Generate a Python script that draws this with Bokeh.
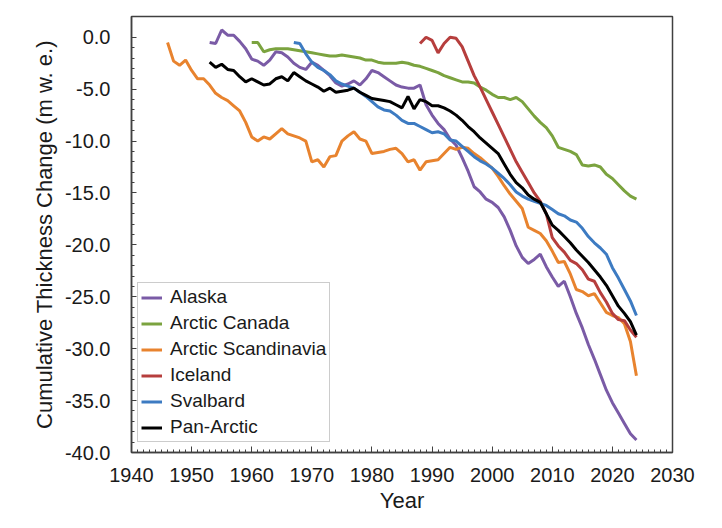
from bokeh.plotting import figure
from bokeh.models import Legend, LegendItem, PrintfTickFormatter, FixedTicker, Range1d
from bokeh.embed import file_html
from bokeh.resources import INLINE

# ---------------- data ----------------
series_names = ["Alaska", "Arctic Canada", "Arctic Scandinavia", "Iceland", "Svalbard", "Pan-Arctic"]

alaska_start = 1953
alaska = [
    -0.5, -0.6, 0.7, 0.2, 0.2, -0.4, -1.1,
    -2.1, -2.3, -2.7, -2.2, -1.4, -1.5, -1.9, -2.5, -2.9, -3.1,
    -2.4, -2.7, -3.2, -3.7, -4.4, -4.7, -4.5, -4.2, -4.6, -4.0,
    -3.2, -3.4, -3.8, -4.2, -4.6, -4.8, -4.9, -4.9, -4.6, -6.5,
    -7.5, -8.3, -8.9, -9.8, -10.4, -11.6, -12.9, -14.4, -14.9, -15.6,
    -15.9, -16.4, -17.3, -18.6, -20.1, -21.2, -21.8, -21.4, -20.9, -22.1,
    -23.1, -24.0, -23.5, -25.0, -26.6, -28.0, -29.6, -31.0, -32.5, -34.0,
    -35.2, -36.2, -37.2, -38.2, -38.8,
]

canada_start = 1960
arctic_canada = [
    -0.5, -0.5, -1.4, -1.2, -1.1, -1.1, -1.1, -1.2, -1.3, -1.4,
    -1.5, -1.6, -1.7, -1.8, -1.8, -1.7, -1.8, -1.9, -2.0, -2.2,
    -2.2, -2.4, -2.5, -2.5, -2.5, -2.4, -2.5, -2.7, -2.8, -3.0,
    -3.2, -3.4, -3.7, -3.9, -4.1, -4.3, -4.3, -4.4, -4.8, -5.1,
    -5.5, -5.8, -5.8, -6.0, -5.8, -6.2, -6.9, -7.6, -8.2, -8.7,
    -9.5, -10.6, -10.8, -11.0, -11.3, -12.3, -12.4, -12.3, -12.5, -13.2,
    -13.6, -14.2, -14.8, -15.3, -15.6,
]

scandinavia_start = 1946
arctic_scandinavia = [
    -0.5, -2.3, -2.7, -2.2,
    -3.2, -4.0, -4.0, -4.6, -5.4, -5.8, -6.1, -6.6, -7.1, -8.2,
    -9.6, -10.0, -9.6, -9.8, -9.3, -8.8, -9.3, -9.5, -9.7, -10.0,
    -12.0, -11.8, -12.5, -11.5, -11.4, -10.0, -9.5, -9.1, -9.8, -10.0,
    -11.2, -11.1, -11.0, -10.8, -10.7, -11.2, -12.0, -11.8, -12.8, -12.0,
    -11.9, -11.8, -11.2, -10.6, -10.8, -10.6, -10.7, -11.2, -11.6, -12.1,
    -12.6, -13.4, -14.3, -15.1, -15.8, -16.5, -18.3, -18.6, -18.9, -19.6,
    -20.6, -21.7, -21.6, -22.8, -24.3, -24.5, -24.9, -24.7, -25.6, -26.5,
    -26.8, -27.0, -27.6, -29.3, -32.6,
]

iceland_start = 1988
iceland = [
    -0.6, 0.0,
    -0.3, -1.5, -0.6, 0.0, -0.1, -0.9, -2.3, -3.7, -4.8, -6.0,
    -7.2, -8.4, -9.6, -10.8, -12.0, -13.0, -14.0, -15.0, -15.8, -17.0,
    -19.3, -20.1, -20.7, -21.5, -21.8, -22.4, -23.3, -23.5, -24.6, -25.5,
    -26.6, -27.2, -27.3, -28.2, -28.9,
]

svalbard_start = 1967
svalbard = [
    -0.5, -0.6, -1.6,
    -2.4, -2.9, -3.2, -3.6, -4.2, -4.5, -4.7, -4.9, -5.3, -5.7,
    -6.2, -6.7, -7.0, -7.1, -7.5, -8.0, -8.3, -8.3, -8.6, -8.9,
    -9.2, -9.1, -9.3, -9.9, -10.0, -10.5, -11.0, -11.5, -11.9, -12.2,
    -12.6, -13.1, -13.6, -14.2, -14.9, -15.3, -15.6, -15.8, -16.0, -16.2,
    -16.6, -17.0, -17.2, -17.6, -17.8, -18.4, -19.2, -19.8, -20.3, -20.9,
    -22.2, -23.2, -24.3, -25.4, -26.8,
]

pan_start = 1953
pan_arctic = [
    -2.4, -2.9, -2.6, -3.1, -3.2, -3.8, -4.3,
    -4.0, -4.3, -4.6, -4.5, -4.0, -3.8, -4.2, -3.4, -3.8, -4.2,
    -4.5, -4.8, -5.2, -4.9, -5.3, -5.2, -5.1, -4.9, -5.3, -5.6,
    -5.9, -6.0, -6.1, -6.2, -6.5, -6.8, -5.7, -6.9, -6.0, -6.2,
    -6.6, -6.6, -6.8, -7.1, -7.5, -8.0, -8.6, -9.1, -9.7, -10.2,
    -10.7, -11.2, -12.2, -13.2, -14.0, -14.5, -15.2, -15.6, -15.9, -17.0,
    -18.1, -18.6, -19.2, -19.8, -20.5, -21.1, -21.7, -22.4, -23.1, -23.9,
    -24.9, -25.9, -26.6, -27.4, -28.7,
]

x_ticks = [1940, 1950, 1960, 1970, 1980, 1990, 2000, 2010, 2020, 2030]
y_ticks = [0.0, -5.0, -10.0, -15.0, -20.0, -25.0, -30.0, -35.0, -40.0]

series = [
    (alaska_start, alaska, "#7A5BA6"),
    (canada_start, arctic_canada, "#7BA33F"),
    (scandinavia_start, arctic_scandinavia, "#E8832E"),
    (iceland_start, iceland, "#B63E3D"),
    (svalbard_start, svalbard, "#3D7BC2"),
    (pan_start, pan_arctic, "#000000"),
]

# ---------------- figure ----------------
FONT = "Liberation Sans"
p = figure(width=714, height=520, output_backend="svg", toolbar_location=None,
           x_range=Range1d(1940, 2030), y_range=Range1d(-40, 2.0),
           min_border_left=131, min_border_right=42, min_border_top=16, min_border_bottom=68)

p.xgrid.grid_line_color = None
p.ygrid.grid_line_color = None
p.outline_line_color = "#404040"
p.outline_line_width = 1.5
p.background_fill_color = "white"
p.border_fill_color = "white"

items = []
for (start, vals, col), name in zip(series, series_names):
    yrs = list(range(start, start + len(vals)))
    r = p.line(yrs, vals, line_color=col, line_width=3)
    items.append(LegendItem(label=name, renderers=[r]))

# axes
p.xaxis.ticker = FixedTicker(ticks=x_ticks, minor_ticks=list(range(1940, 2031)))
p.yaxis.ticker = FixedTicker(ticks=y_ticks, minor_ticks=list(range(-40, 1)))
p.yaxis.formatter = PrintfTickFormatter(format="%.1f")

for ax in (p.xaxis[0], p.yaxis[0]):
    ax.axis_line_color = "#404040"
    ax.axis_line_width = 1.5
    ax.major_tick_line_color = "#404040"
    ax.minor_tick_line_color = "#404040"
    ax.major_tick_out = 0
    ax.minor_tick_out = 0
    ax.major_label_text_font = FONT
    ax.major_label_text_font_size = "20px"
    ax.major_label_text_color = "#1a1a1a"
    ax.axis_label_text_font = FONT
    ax.axis_label_text_font_size = "22px"
    ax.axis_label_text_font_style = "normal"
    ax.axis_label_text_color = "#1a1a1a"

p.xaxis.major_tick_in = 6
p.xaxis.minor_tick_in = 3
p.yaxis.major_tick_in = 5
p.yaxis.minor_tick_in = 3
p.xaxis.major_label_standoff = 15
p.yaxis.major_label_standoff = 21
p.xaxis.axis_label = "Year"
p.yaxis.axis_label = "Cumulative Thickness Change (m w. e.)"
p.xaxis.axis_label_standoff = 3
p.yaxis.axis_label_standoff = 5

legend = Legend(items=items, location=(6, 10))
legend.label_text_font = FONT
legend.label_text_font_size = "19px"
legend.label_text_color = "#1a1a1a"
legend.border_line_color = "#9a9a9a"
legend.border_line_width = 1.5
legend.background_fill_color = "white"
legend.background_fill_alpha = 1.0
legend.glyph_width = 21
legend.glyph_height = 21
legend.label_height = 21
legend.label_standoff = 8
legend.spacing = 4
legend.padding = 3
legend.margin = 0
p.add_layout(legend, "center")

open("out.html", "w").write(file_html(p, INLINE))
